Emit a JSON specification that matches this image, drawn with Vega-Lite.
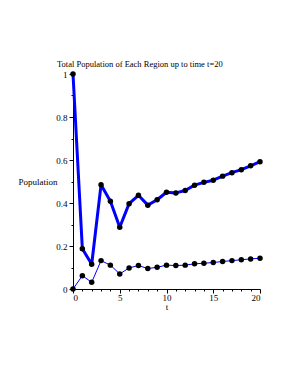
{
  "$schema": "https://vega.github.io/schema/vega-lite/v6.json",
  "width": 187,
  "height": 215,
  "autosize": {"type": "none"},
  "padding": {"left": 73, "top": 74, "right": 27, "bottom": 83},
  "background": "white",
  "title": {
    "text": "Total Population of Each Region up to time t=20",
    "font": "Liberation Serif",
    "fontSize": 8.5,
    "fontWeight": "normal",
    "color": "black",
    "anchor": "start",
    "frame": "group",
    "dx": -16,
    "offset": 2
  },
  "data": {
    "values": [
      {"t": 0, "pop": 1.0, "region": "A"},
      {"t": 1, "pop": 0.187, "region": "A"},
      {"t": 2, "pop": 0.115, "region": "A"},
      {"t": 3, "pop": 0.485, "region": "A"},
      {"t": 4, "pop": 0.408, "region": "A"},
      {"t": 5, "pop": 0.287, "region": "A"},
      {"t": 6, "pop": 0.397, "region": "A"},
      {"t": 7, "pop": 0.436, "region": "A"},
      {"t": 8, "pop": 0.390, "region": "A"},
      {"t": 9, "pop": 0.415, "region": "A"},
      {"t": 10, "pop": 0.450, "region": "A"},
      {"t": 11, "pop": 0.447, "region": "A"},
      {"t": 12, "pop": 0.458, "region": "A"},
      {"t": 13, "pop": 0.483, "region": "A"},
      {"t": 14, "pop": 0.496, "region": "A"},
      {"t": 15, "pop": 0.506, "region": "A"},
      {"t": 16, "pop": 0.525, "region": "A"},
      {"t": 17, "pop": 0.541, "region": "A"},
      {"t": 18, "pop": 0.555, "region": "A"},
      {"t": 19, "pop": 0.573, "region": "A"},
      {"t": 20, "pop": 0.592, "region": "A"},
      {"t": 0, "pop": 0.0, "region": "B"},
      {"t": 1, "pop": 0.062, "region": "B"},
      {"t": 2, "pop": 0.031, "region": "B"},
      {"t": 3, "pop": 0.132, "region": "B"},
      {"t": 4, "pop": 0.111, "region": "B"},
      {"t": 5, "pop": 0.070, "region": "B"},
      {"t": 6, "pop": 0.098, "region": "B"},
      {"t": 7, "pop": 0.109, "region": "B"},
      {"t": 8, "pop": 0.095, "region": "B"},
      {"t": 9, "pop": 0.101, "region": "B"},
      {"t": 10, "pop": 0.111, "region": "B"},
      {"t": 11, "pop": 0.109, "region": "B"},
      {"t": 12, "pop": 0.111, "region": "B"},
      {"t": 13, "pop": 0.117, "region": "B"},
      {"t": 14, "pop": 0.120, "region": "B"},
      {"t": 15, "pop": 0.123, "region": "B"},
      {"t": 16, "pop": 0.128, "region": "B"},
      {"t": 17, "pop": 0.132, "region": "B"},
      {"t": 18, "pop": 0.136, "region": "B"},
      {"t": 19, "pop": 0.140, "region": "B"},
      {"t": 20, "pop": 0.143, "region": "B"}
    ]
  },
  "encoding": {
    "x": {
      "field": "t",
      "type": "quantitative",
      "scale": {"domain": [0, 20], "nice": false, "zero": false},
      "axis": {
        "title": "t",
        "values": [0,1,2,3,4,5,6,7,8,9,10,11,12,13,14,15,16,17,18,19,20],
        "labelExpr": "datum.value % 5 === 0 ? datum.label : ''",
        "tickSize": {"condition": {"test": "datum.value % 5 === 0", "value": 4}, "value": 2},
        "grid": false,
        "domainColor": "black",
        "tickColor": "black",
        "labelColor": "black",
        "titleColor": "black",
        "labelFont": "Liberation Serif",
        "titleFont": "Liberation Serif",
        "labelFontSize": 9,
        "titleFontSize": 9,
        "titleFontWeight": "normal",
        "labelPadding": 0,
        "titlePadding": 0
      }
    },
    "y": {
      "field": "pop",
      "type": "quantitative",
      "scale": {"domain": [0, 1], "nice": false},
      "axis": {
        "title": "Population",
        "values": [0,0.1,0.2,0.3,0.4,0.5,0.6,0.7,0.8,0.9,1],
        "labelExpr": "round(datum.value*10) % 2 === 0 ? format(datum.value, '~g') : ''",
        "tickSize": {"condition": {"test": "round(datum.value*10) % 2 === 0", "value": 4}, "value": 2},
        "grid": false,
        "domainColor": "black",
        "tickColor": "black",
        "labelColor": "black",
        "titleColor": "black",
        "labelFont": "Liberation Serif",
        "titleFont": "Liberation Serif",
        "labelFontSize": 9,
        "titleFontSize": 9,
        "titleFontWeight": "normal",
        "labelPadding": 2,
        "titleAngle": 0,
        "titleAlign": "right",
        "titleBaseline": "middle",
        "titleX": -16,
        "titleY": 107
      }
    }
  },
  "layer": [
    {
      "mark": {"type": "line", "color": "#0000ff", "strokeJoin": "round"},
      "encoding": {
        "detail": {"field": "region"},
        "strokeWidth": {
          "field": "region",
          "type": "nominal",
          "scale": {"domain": ["A", "B"], "range": [3, 1]},
          "legend": null
        }
      }
    },
    {
      "mark": {"type": "circle", "color": "black", "opacity": 1, "size": 30},
      "encoding": {"detail": {"field": "region"}}
    }
  ],
  "config": {"view": {"stroke": null}}
}
